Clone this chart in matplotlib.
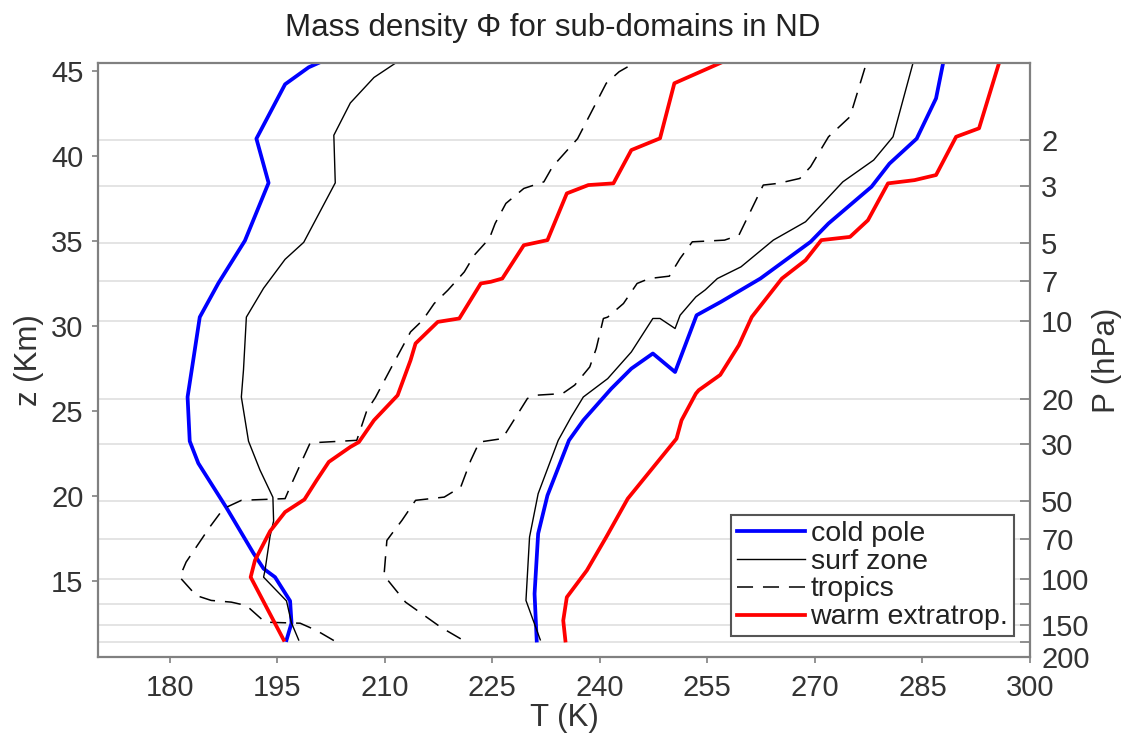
import numpy as np
import matplotlib.pyplot as plt

plt.rcParams['font.family'] = ['Liberation Sans', 'DejaVu Sans']

# right axis: pressure levels (hPa)
p_ticks = [2, 3, 5, 7, 10, 20, 30, 50, 70, 100, 125, 150, 175, 200]
p_labels = ['2', '3', '5', '7', '10', '20', '30', '50', '70', '100', '', '150', '', '200']
z_ticks = [15, 20, 25, 30, 35, 40, 45]
T_ticks = [180, 195, 210, 225, 240, 255, 270, 285, 300]

# cold pole, low / high envelope
cold_lo_z = [11.5, 12.5, 13.8, 15.2, 15.7, 16.6, 19.3, 21.9, 23.2, 25.8, 28.0, 30.5,
             32.5, 35.0, 38.4, 41.0, 44.2, 45.2, 45.5]
cold_lo_T = [196.3, 197.0, 196.8, 194.7, 193.1, 191.7, 187.9, 184.0, 182.8, 182.5, 183.3, 184.2,
             186.8, 190.5, 193.8, 192.1, 196.1, 199.4, 201.0]
cold_hi_z = [11.47, 14.22, 17.76, 20.01, 23.25, 24.43, 26.29, 27.47, 28.36, 27.27, 30.61,
             31.4, 32.77, 34.93, 36.01, 38.17, 39.53, 41.0, 43.37, 45.47]
cold_hi_T = [231.2, 230.9, 231.4, 232.7, 235.7, 237.7, 241.6, 244.4, 247.4, 250.5, 253.5,
             256.9, 262.4, 269.4, 271.9, 277.9, 280.4, 284.2, 286.9, 287.9]

# surf zone
surf_lo_z = [11.5, 12.5, 13.8, 15.2, 15.6, 17.6, 18.5, 19.9, 21.5, 23.2, 25.8, 27.4, 30.5,
             32.2, 33.9, 34.9, 38.4, 41.2, 43.1, 44.6, 45.5]
surf_lo_T = [198.0, 197.0, 196.3, 193.1, 193.3, 194.0, 194.5, 194.4, 192.6, 191.0, 190.0, 190.3, 190.7,
             193.1, 196.1, 198.7, 203.1, 202.9, 205.2, 208.5, 211.7]
surf_hi_z = [11.51, 13.83, 17.56, 20.11, 23.25, 24.62, 25.8, 26.88, 28.45, 30.42, 30.42, 29.83,
             30.61, 31.69, 32.1, 32.77, 33.46, 35.03, 36.11, 38.46, 39.74, 41.11, 45.47]
surf_hi_T = [231.7, 229.7, 230.2, 231.4, 234.2, 236.0, 237.7, 241.1, 244.4, 247.4, 248.4, 250.5,
             251.2, 253.4, 254.7, 256.4, 259.7, 264.2, 268.7, 273.9, 278.2, 280.9, 283.7]

# tropics
trop_lo_z = [11.47, 12.06, 12.49, 12.55, 13.53, 13.73, 13.83, 14.12, 15.2, 16.09, 18.15, 19.23,
             19.72, 19.82, 20.31, 22.27, 23.1, 23.25, 25.0, 25.77, 27.6, 29.63, 30.32, 31.3, 32.08,
             33.16, 34.15, 35.13, 36.01, 37.19, 38.07, 38.46, 39.35, 41.0, 44.26, 44.94, 45.47]
trop_lo_T = [202.9, 200.5, 198.2, 193.3, 190.7, 188.6, 185.8, 183.7, 181.4, 182.3, 185.6, 187.5,
             190.0, 196.1, 196.6, 198.7, 199.6, 206.1, 207.5, 208.7, 211.0, 213.6, 215.3, 216.9, 218.8,
             221.1, 222.5, 224.6, 225.4, 226.9, 229.4, 232.2, 233.4, 236.9, 240.9, 242.7, 244.9]
trop_hi_z = [11.57, 12.26, 12.95, 13.73, 15.3, 17.36, 17.76, 18.54, 19.72, 19.91, 20.5, 22.07,
             23.15, 23.35, 25.71, 25.9, 26.0, 26.5, 27.57, 28.65, 30.42, 30.5, 31.3, 32.48, 32.77,
             32.91, 33.95, 34.93, 35.03, 35.32, 38.27, 38.37, 38.66, 39.35, 41.11, 42.29, 43.67, 45.47]
trop_hi_T = [220.6, 217.8, 215.5, 212.9, 209.9, 210.3, 211.0, 212.4, 214.3, 218.3, 220.6, 222.0,
             223.2, 226.4, 229.9, 230.9, 234.8, 236.5, 238.6, 239.5, 240.5, 241.1, 243.3, 245.2, 246.9,
             249.7, 251.2, 252.9, 257.4, 259.4, 262.8, 264.9, 267.9, 269.4, 271.9, 274.9, 275.9, 277.2]

# warm extratropics
warm_lo_z = [11.51, 15.2, 16.19, 17.9, 19.03, 19.77, 20.9, 21.98, 22.86, 23.15, 24.43, 25.9,
             27.96, 28.95, 30.22, 30.42, 32.48, 32.58, 32.77, 34.73, 35.03, 37.78, 38.27, 38.37,
             40.33, 41.02, 44.26, 45.47]
warm_lo_T = [195.9, 191.3, 191.9, 194.0, 196.1, 198.8, 200.5, 202.2, 205.2, 206.4, 208.5, 211.8,
             213.6, 214.3, 217.4, 220.4, 223.4, 224.8, 226.4, 229.4, 232.7, 235.4, 238.4, 241.9,
             244.4, 248.4, 250.4, 256.9]
warm_hi_z = [11.47, 12.65, 14.02, 15.6, 17.56, 19.82, 23.35, 24.43, 26.0, 26.2, 27.1, 28.85,
             30.51, 32.77, 33.85, 35.03, 35.22, 36.2, 38.37, 38.56, 38.86, 41.11, 41.61, 45.47]
warm_hi_T = [235.2, 234.9, 235.4, 238.2, 240.9, 243.9, 250.7, 251.4, 253.4, 253.8, 256.8, 259.4,
             261.2, 265.4, 268.7, 270.9, 274.9, 277.4, 280.2, 283.9, 286.9, 289.7, 292.9, 295.7]

H, P0 = 6.6, 982.0


def p2z(p):
    return H * np.log(P0 / np.asarray(p, dtype=float))


fig = plt.figure(figsize=(11.26, 7.33), dpi=100)
ax = fig.add_axes([0.087, 0.1037, 0.8277, 0.8108])

for z in p2z(p_ticks):
    ax.axhline(z, color='#e4e4e4', lw=1.4, zorder=0)

blue, red = '#0000ff', '#ff0000'
ax.plot(cold_lo_T, cold_lo_z, color=blue, lw=2.7, label='cold pole')
ax.plot(cold_hi_T, cold_hi_z, color=blue, lw=2.7)
ax.plot(surf_lo_T, surf_lo_z, color='k', lw=1.0, label='surf zone')
ax.plot(surf_hi_T, surf_hi_z, color='k', lw=1.0)
ax.plot(trop_lo_T, trop_lo_z, color='k', lw=1.1, dashes=(10.5, 6.5), label='tropics')
ax.plot(trop_hi_T, trop_hi_z, color='k', lw=1.1, dashes=(10.5, 6.5))
ax.plot(warm_lo_T, warm_lo_z, color=red, lw=2.7, label='warm extratrop.')
ax.plot(warm_hi_T, warm_hi_z, color=red, lw=2.7)

ylim = (p2z(200), p2z(1))
ax.set_xlim(170, 300)
ax.set_ylim(ylim)
ax.set_xticks(T_ticks)
ax.set_yticks(z_ticks)

gray = '#808080'
txt = '#333333'
for s in ax.spines.values():
    s.set_color(gray)
    s.set_linewidth(1.6)
ax.tick_params(axis='x', direction='out', length=4, width=1.2, color=gray,
               labelsize=21, labelcolor=txt, pad=8)
ax.tick_params(axis='y', direction='out', length=4.5, width=1.2, color=gray,
               labelsize=21, labelcolor=txt, pad=6)
ax.set_xlabel('T (K)', fontsize=22.5, color=txt, labelpad=1)
ax.set_ylabel('z (Km)', fontsize=22.5, color=txt, labelpad=5)

ax2 = ax.twinx()
ax2.set_ylim(ylim)
ax2.set_yticks(p2z(p_ticks))
ax2.set_yticklabels(p_labels)
ax2.tick_params(axis='y', direction='in', length=7, width=1.2, color=gray,
                labelsize=21, labelcolor=txt, pad=8)
for s in ax2.spines.values():
    s.set_visible(False)
ax2.set_ylabel('P (hPa)', fontsize=22.5, color=txt, labelpad=2)

leg = ax.legend(loc='lower right', bbox_to_anchor=(0.983, 0.035), borderaxespad=0,
                fontsize=20.5, labelspacing=0.07, handlelength=2.4, handletextpad=0.18,
                borderpad=0.2, fancybox=False, framealpha=1)
leg.get_frame().set_edgecolor('#555555')
leg.get_frame().set_linewidth(1.5)
for t in leg.get_texts():
    t.set_color('#222222')

fig.text(553 / 1126, 1 - 28 / 733, 'Mass density \u03a6 for sub-domains in ND',
         ha='center', va='center', fontsize=22.5, color='#222222')

fig.savefig('out.png', dpi=100)
